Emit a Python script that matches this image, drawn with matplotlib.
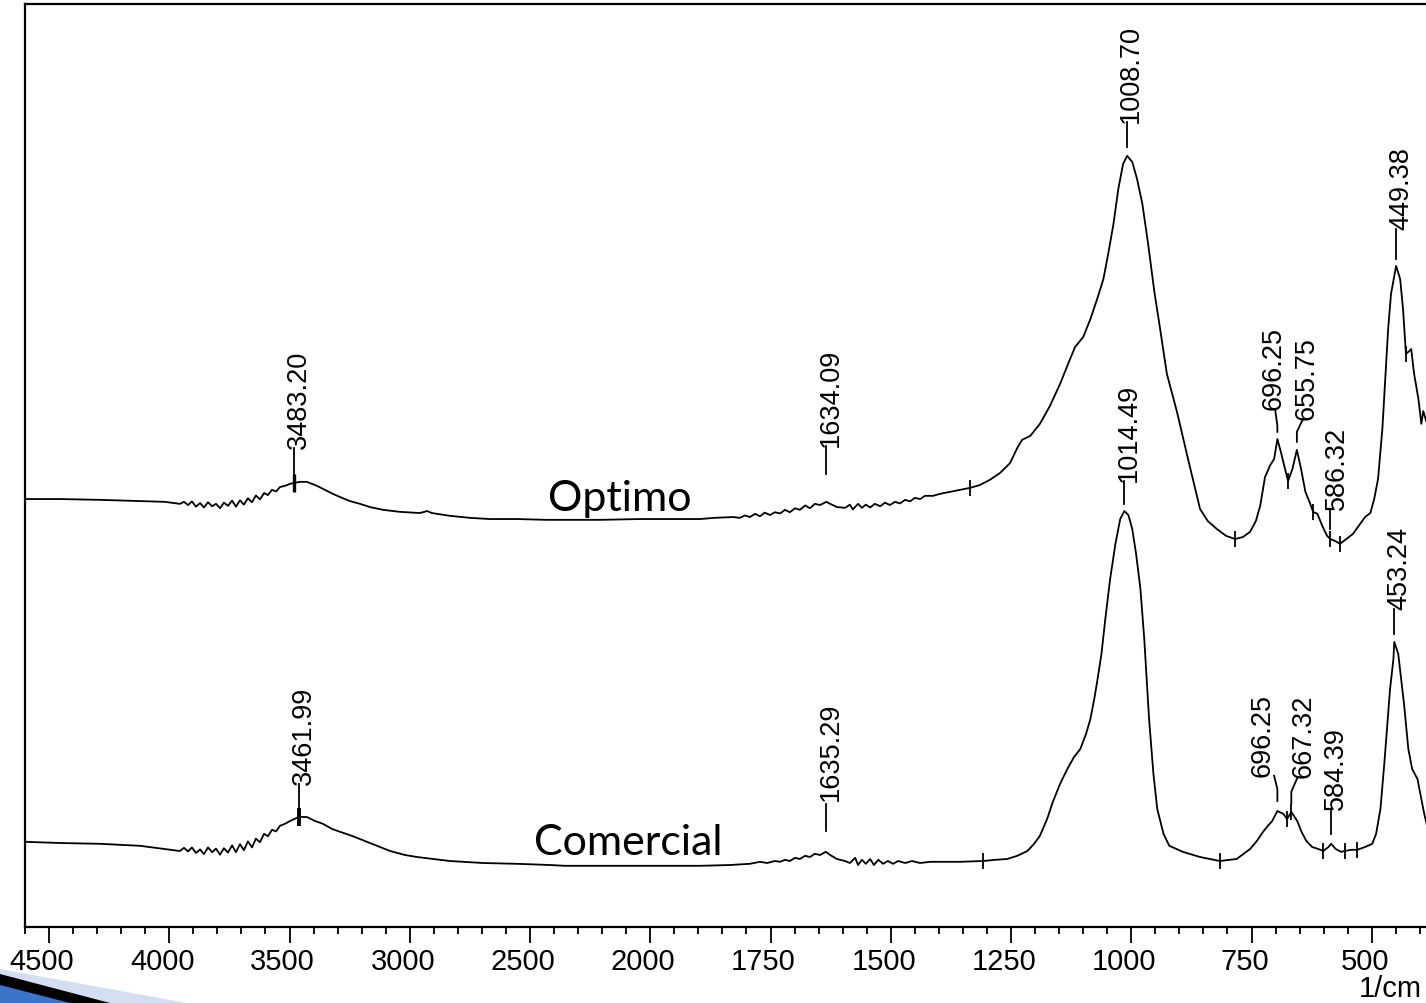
import numpy as np
import matplotlib
matplotlib.use('Agg')
import matplotlib.pyplot as plt
from matplotlib.patches import Polygon
from matplotlib.ticker import FixedLocator
from matplotlib.transforms import ScaledTranslation

# FTIR spectra, wavenumber (1/cm) vs absorbance (a.u.)
opt_wn = [4600, 4454, 4288, 4122, 4018, 3956, 3939, 3922, 3906, 3889, 3872, 3856, 3839, 3822, 3806,
          3789, 3773, 3756, 3739, 3723, 3706, 3690, 3673, 3656, 3640, 3623, 3606, 3590, 3573, 3556,
          3540, 3519, 3498, 3483.20, 3457, 3428, 3386, 3353, 3320, 3282, 3249, 3207, 3166, 3111,
          3041, 2958, 2928, 2908, 2833, 2750, 2667, 2554, 2430, 2334, 2209, 2043, 1959, 1897, 1866,
          1828, 1814, 1803, 1793, 1782, 1772, 1762, 1751, 1741, 1730, 1720, 1710, 1699, 1689, 1678,
          1668, 1658, 1647, 1634.09, 1626, 1612, 1595, 1585, 1579, 1568, 1560, 1552, 1543, 1533,
          1522, 1512, 1502, 1491, 1481, 1470, 1460, 1450, 1439, 1429, 1412, 1398, 1377, 1356, 1335,
          1315, 1294, 1273, 1252, 1237, 1227, 1210, 1190, 1169, 1148, 1133, 1117, 1100, 1085, 1071,
          1058, 1048, 1037, 1027, 1017, 1008.70, 998, 988, 977, 965, 952, 940, 926, 905, 882, 857,
          841, 822, 803, 784, 768, 753, 741, 732, 722, 711, 703, 696.25, 688, 682, 674, 665, 655.75,
          647, 638, 628, 622, 613, 603, 593, 586.32, 576, 566, 553, 539, 524, 514, 503, 495, 487,
          478, 472, 466, 460, 449.38, 441, 435, 429, 422, 418, 412, 403, 397, 393, 385]
opt_abs = [1.070, 1.070, 1.068, 1.065, 1.063, 1.058, 1.063, 1.055, 1.064, 1.051, 1.060, 1.049, 1.062,
           1.052, 1.058, 1.047, 1.061, 1.053, 1.066, 1.051, 1.067, 1.056, 1.072, 1.062, 1.079, 1.069,
           1.085, 1.080, 1.093, 1.089, 1.100, 1.103, 1.108, 1.110, 1.113, 1.113, 1.103, 1.093, 1.083,
           1.073, 1.065, 1.058, 1.050, 1.043, 1.038, 1.035, 1.040, 1.035, 1.028, 1.023, 1.020, 1.020,
           1.018, 1.018, 1.018, 1.020, 1.020, 1.020, 1.023, 1.025, 1.023, 1.029, 1.025, 1.033, 1.027,
           1.036, 1.030, 1.037, 1.034, 1.043, 1.037, 1.047, 1.043, 1.054, 1.047, 1.058, 1.055, 1.063,
           1.058, 1.050, 1.048, 1.056, 1.044, 1.058, 1.048, 1.056, 1.049, 1.058, 1.052, 1.061, 1.055,
           1.063, 1.059, 1.068, 1.064, 1.073, 1.070, 1.078, 1.078, 1.083, 1.088, 1.093, 1.098, 1.105,
           1.118, 1.135, 1.160, 1.198, 1.218, 1.228, 1.258, 1.303, 1.358, 1.403, 1.450, 1.475, 1.520,
           1.570, 1.620, 1.683, 1.758, 1.845, 1.908, 1.928, 1.913, 1.870, 1.808, 1.708, 1.588, 1.495,
           1.383, 1.288, 1.170, 1.045, 1.015, 0.995, 0.978, 0.970, 0.975, 0.988, 1.015, 1.053, 1.125,
           1.155, 1.170, 1.220, 1.183, 1.153, 1.115, 1.145, 1.193, 1.145, 1.088, 1.058, 1.038, 1.033,
           1.003, 0.978, 0.970, 0.965, 0.958, 0.970, 0.983, 1.008, 1.025, 1.035, 1.070, 1.120, 1.245,
           1.370, 1.495, 1.583, 1.653, 1.620, 1.545, 1.433, 1.440, 1.445, 1.383, 1.320, 1.258, 1.290,
           1.258]

com_wn = [4600, 4454, 4288, 4122, 4018, 3956, 3939, 3922, 3906, 3889, 3872, 3856, 3839, 3822, 3806,
          3789, 3773, 3756, 3739, 3723, 3706, 3690, 3673, 3656, 3640, 3623, 3606, 3590, 3573, 3556,
          3540, 3519, 3498, 3461.99, 3428, 3394, 3361, 3323, 3290, 3241, 3178, 3124, 3082, 3020,
          2970, 2833, 2696, 2554, 2417, 2355, 2209, 2001, 1897, 1834, 1793, 1772, 1757, 1741, 1730,
          1720, 1710, 1699, 1689, 1678, 1668, 1658, 1647, 1635.29, 1626, 1612, 1595, 1585, 1574,
          1568, 1560, 1552, 1543, 1535, 1526, 1516, 1506, 1495, 1485, 1470, 1456, 1439, 1418, 1387,
          1356, 1308, 1283, 1258, 1237, 1216, 1202, 1190, 1175, 1163, 1148, 1133, 1119, 1106, 1094,
          1085, 1077, 1071, 1062, 1054, 1044, 1033, 1023, 1014.49, 1006, 998, 990, 981, 973, 963,
          954, 946, 933, 921, 893, 857, 816, 781, 753, 739, 726, 716, 707, 696.25, 684, 676, 667.32,
          655, 646, 636, 624, 611, 601, 590, 584.39, 575, 564, 556, 543, 530, 514, 499, 491, 482,
          474, 468, 462, 455, 453.24, 445, 439, 433, 424, 416, 405, 397, 391, 385]
com_abs = [0.213, 0.210, 0.208, 0.203, 0.195, 0.190, 0.198, 0.189, 0.199, 0.185, 0.194, 0.182, 0.199,
           0.187, 0.196, 0.181, 0.197, 0.186, 0.204, 0.187, 0.207, 0.192, 0.214, 0.199, 0.221, 0.212,
           0.233, 0.227, 0.243, 0.239, 0.253, 0.258, 0.265, 0.275, 0.275, 0.265, 0.258, 0.245, 0.238,
           0.228, 0.213, 0.200, 0.190, 0.180, 0.175, 0.165, 0.160, 0.158, 0.155, 0.153, 0.153, 0.153,
           0.153, 0.155, 0.158, 0.163, 0.160, 0.165, 0.163, 0.168, 0.165, 0.173, 0.170, 0.178, 0.175,
           0.183, 0.180, 0.188, 0.180, 0.170, 0.165, 0.160, 0.173, 0.155, 0.168, 0.158, 0.170, 0.155,
           0.168, 0.158, 0.165, 0.158, 0.165, 0.160, 0.165, 0.160, 0.163, 0.163, 0.163, 0.165, 0.168,
           0.170, 0.178, 0.190, 0.208, 0.228, 0.270, 0.313, 0.358, 0.395, 0.425, 0.445, 0.483, 0.520,
           0.570, 0.613, 0.683, 0.770, 0.870, 0.958, 1.020, 1.040, 1.030, 0.995, 0.933, 0.845, 0.720,
           0.520, 0.383, 0.295, 0.233, 0.203, 0.188, 0.175, 0.165, 0.170, 0.195, 0.215, 0.238, 0.253,
           0.265, 0.290, 0.283, 0.270, 0.288, 0.265, 0.238, 0.215, 0.200, 0.195, 0.190, 0.200, 0.208,
           0.195, 0.188, 0.190, 0.193, 0.193, 0.200, 0.208, 0.233, 0.295, 0.408, 0.503, 0.595, 0.670,
           0.713, 0.683, 0.620, 0.558, 0.445, 0.395, 0.370, 0.320, 0.283, 0.253]

# labelled peaks and the small valley marks on each trace
opt_peaks = [3483.20, 1634.09, 1008.70, 696.25, 655.75, 586.32, 449.38]
com_peaks = [3461.99, 1635.29, 1014.49, 696.25, 667.32, 584.39, 453.24]
opt_marks = [1335, 784, 674, 622, 586.32, 566, 429]
com_marks = [1308, 816, 676, 667.32, 601, 556, 530]

major_ticks = [4500, 4000, 3500, 3000, 2500, 2000, 1750, 1500, 1250, 1000, 750, 500]

# leader polylines and label anchors (wavenumber, absorbance)
opt_layout = {
    3483.20: ([(3483.20, 1.130), (3483.20, 1.198)], (3462, 1.198)),
    1634.09: ([(1634.09, 1.133), (1634.09, 1.203)], (1624, 1.203)),
    1008.70: ([(1008.70, 1.950), (1008.70, 2.013)], (1000, 2.013)),
    696.25: ([(696.25, 1.238), (696.25, 1.253), (701, 1.295)], (705, 1.295)),
    655.75: ([(655.75, 1.213), (655.75, 1.238), (643, 1.270)], (635, 1.270)),
    586.32: ([(586.32, 0.995), (586.32, 1.045)], (573, 1.045)),
    449.38: ([(449.38, 1.670), (449.38, 1.745)], (439, 1.745)),
}
com_layout = {
    3461.99: ([(3461.99, 0.295), (3461.99, 0.358)], (3441, 0.358)),
    1635.29: ([(1635.29, 0.240), (1635.29, 0.308)], (1625, 0.318)),
    1014.49: ([(1014.49, 1.058), (1014.49, 1.115)], (1006, 1.115)),
    696.25: ([(696.25, 0.315), (696.25, 0.345), (703, 0.378)], (726, 0.378)),
    667.32: ([(667.32, 0.308), (667.32, 0.338), (654, 0.375)], (641, 0.375)),
    584.39: ([(584.39, 0.233), (584.39, 0.295)], (575, 0.295)),
    453.24: ([(453.24, 0.733), (453.24, 0.795)], (443, 0.795)),
}


def fwd(x):
    # region below 2000 1/cm is drawn at double scale
    x = np.asarray(x, dtype=float)
    return np.where(x >= 2000, x, 2 * x - 2000)


def inv(u):
    u = np.asarray(u, dtype=float)
    return np.where(u >= 2000, u, (u + 2000) / 2)


LABEL_FONT = 'Liberation Sans'
LW = 1.3

fig = plt.figure(figsize=(14.26, 10.04), dpi=100)
fig.patch.set_facecolor('white')

# slide ribbon, bottom left corner
def fpx(xp, yp):
    return (xp / 1426, 1 - yp / 1004)

fig.add_artist(Polygon([fpx(0, 970), fpx(187, 1004), fpx(0, 1004)], closed=True,
                       transform=fig.transFigure, facecolor='#d4def1', edgecolor='none'))
fig.add_artist(Polygon([fpx(0, 975), fpx(110, 1004), fpx(0, 1004)], closed=True,
                       transform=fig.transFigure, facecolor='black', edgecolor='none'))
fig.add_artist(Polygon([fpx(0, 986), fpx(70, 1004), fpx(0, 1004)], closed=True,
                       transform=fig.transFigure, facecolor='#3b74c9', edgecolor='none'))

ax = fig.add_axes([25 / 1426, 76 / 1004, 1404.5 / 1426, 923.5 / 1004])
ax.set_xscale('function', functions=(fwd, inv))
ax.set_xlim(4600, 380)
ax.set_ylim(0, 2.309)

for spine in ax.spines.values():
    spine.set_linewidth(1.6)

ax.plot(opt_wn, opt_abs, color='black', lw=LW)
ax.plot(com_wn, com_abs, color='black', lw=LW)

# valley / integration marks
for wn_arr, ab_arr, marks in [(opt_wn, opt_abs, opt_marks), (com_wn, com_abs, com_marks)]:
    xs = np.array(wn_arr)[::-1]
    ys = np.array(ab_arr)[::-1]
    my = np.interp(marks, xs, ys)
    ax.plot(marks, my, ls='none', marker='|', ms=12, mew=LW, color='black')
ax.plot([3483.20], [1.110], ls='none', marker='|', ms=13, mew=2.4, color='black')
ax.plot([3461.99], [0.275], ls='none', marker='|', ms=13, mew=2.8, color='black')

for peaks, layout in [(opt_peaks, opt_layout), (com_peaks, com_layout)]:
    for pk in peaks:
        leader, (tx, ty) = layout[pk]
        lx, ly = zip(*leader)
        ax.plot(lx, ly, color='black', lw=LW)
        ax.text(tx, ty, f'{pk:.2f}', rotation=90, ha='center', va='bottom',
                fontsize=19.5, family=LABEL_FONT)

ax.text(2126, 1.0425, 'Optimo', ha='center', va='baseline', fontsize=31, family='Lato')
ax.text(2091, 0.1825, 'Comercial', ha='center', va='baseline', fontsize=31, family='Lato')

minor_ticks = [w for w in list(range(4600, 2000, -100)) + list(range(2000, 380, -50))
               if w not in major_ticks]
ax.xaxis.set_major_locator(FixedLocator(major_ticks))
ax.xaxis.set_minor_locator(FixedLocator(minor_ticks))
ax.set_xticklabels([str(t) for t in major_ticks])
ax.set_yticks([])
ax.tick_params(axis='x', which='major', direction='out', length=11.5, width=1.3, pad=3,
               labelsize=21)
ax.tick_params(axis='x', which='minor', direction='out', length=5.3, width=1.3)
for lbl in ax.get_xticklabels():
    lbl.set_family(LABEL_FONT)

fig.text(1422 / 1426, 7 / 1004, '1/cm', ha='right', va='baseline', fontsize=21,
         family=LABEL_FONT)

fig.canvas.draw()
shift = ScaledTranslation(-7 / 100, 0, fig.dpi_scale_trans)
for tick in ax.xaxis.get_major_ticks():
    tick.label1.set_transform(tick.label1.get_transform() + shift)

fig.savefig('out.png', dpi=100, facecolor='white')
